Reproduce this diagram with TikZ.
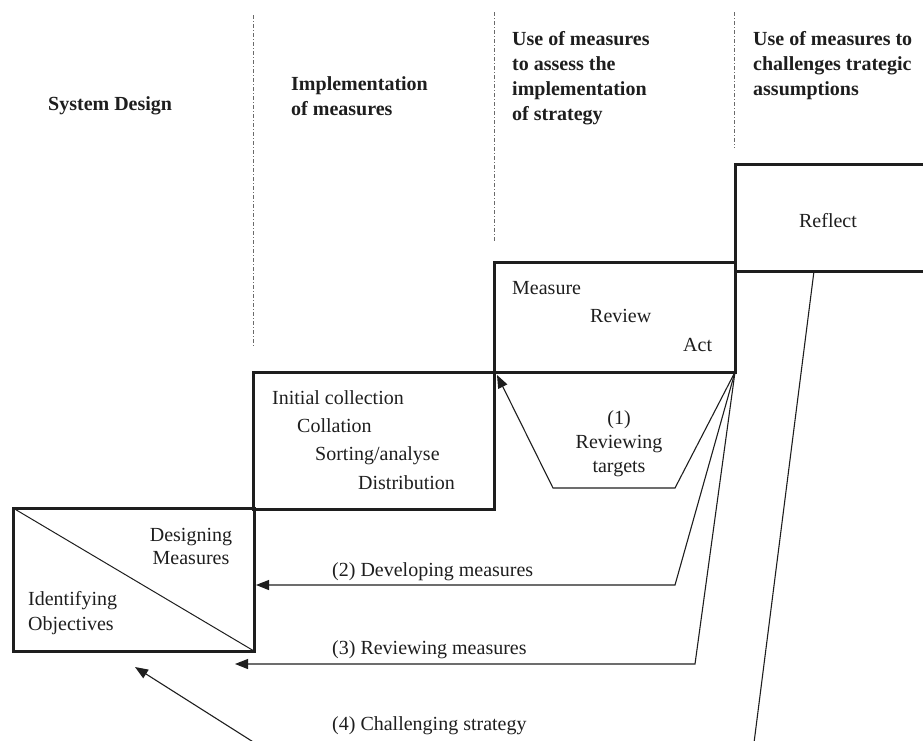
\documentclass[tikz,border=0pt]{standalone}
\usepackage{fontspec}
\setmainfont{Liberation Serif}
\usetikzlibrary{arrows.meta,calc}
\definecolor{ink}{HTML}{1E1E1E}
\definecolor{guide}{HTML}{6A6A6A}
\begin{document}
\begin{tikzpicture}[x=1pt,y=-1pt,
  stage/.style={draw=ink,line width=3pt,outer sep=0pt,inner sep=0pt},
  flow/.style={draw=ink,line width=1.1pt},
  flowarrow/.style={flow,-{Triangle[length=13pt,width=10pt]}},
  divider/.style={draw=guide,line width=0.8pt,dash pattern=on 4pt off 2pt on 1pt off 2pt},
  txt/.style={text=ink,inner sep=0pt,font=\fontsize{20}{28}\selectfont},
  head/.style={txt,font=\fontsize{20}{25}\selectfont\bfseries,align=left,anchor=north west}
]
\useasboundingbox (0,0) rectangle (923,740);
\clip (0,0) rectangle (923,740);

% column dividers
\draw[divider] (253,15) -- (253,346);
\draw[divider] (494,12) -- (494,242);
\draw[divider] (734,12) -- (734,148);

% column headings
\node[head] (h1) at (48,96) {System Design};
\node[head] (h2) at (291,76) {Implementation\\of measures};
\node[head] (h3) at (512,31) {Use of measures\\to assess the\\implementation\\of strategy};
\node[head] (h4) at (753,31) {Use of measures to\\challenges trategic\\assumptions};

% staircase of stages
\node[stage,minimum width=241pt,minimum height=143pt] (A) at (133.5,579.5) {};
\node[stage,minimum width=241pt,minimum height=137pt] (B) at (373.5,440.5) {};
\node[stage,minimum width=241pt,minimum height=110pt] (C) at (614.5,317) {};
\node[stage,minimum width=240pt,minimum height=107pt] (D) at (855,217.5) {};

% stage A split by its diagonal
\draw[line width=1pt,draw=ink] (A.north west) -- (A.south east);
\node[txt,align=center,anchor=north,font=\fontsize{20}{23}\selectfont] (dm) at (191,528) {Designing\\Measures};
\node[txt,align=left,anchor=north west,font=\fontsize{20}{25}\selectfont] (io) at (28,591) {Identifying\\Objectives};

% stage B
\node[txt,anchor=north west] (b1) at (272,390) {Initial collection};
\node[txt,anchor=north west] (b2) at (297,418) {Collation};
\node[txt,anchor=north west] (b3) at (315,446) {Sorting/analyse};
\node[txt,anchor=north west] (b4) at (358,475) {Distribution};

% stage C
\node[txt,anchor=north west] (c1) at (512,281) {Measure};
\node[txt,anchor=north west] (c2) at (590,309) {Review};
\node[txt,anchor=north west] (c3) at (683,338) {Act};

% stage D
\node[txt] (r) at (828,221) {Reflect};

% feedback loops
\coordinate (t1) at (675,488);
\coordinate (t2) at (553,488);
\coordinate (l2) at (675,585);
\coordinate (e2) at (256,585);
\coordinate (l3) at (695,664);
\coordinate (e3) at (235,664);
\coordinate (r1) at (814,271);
\coordinate (r2) at (748,790);
\coordinate (r3) at (329,790);
\coordinate (e4) at (135,667);

\draw[flowarrow] (C.south east) -- (t1) -- (t2) -- ($(C.south west)+(3,3)$);
\draw[flowarrow] (C.south east) -- (l2) -- (e2);
\draw[flowarrow] (C.south east) -- (l3) -- (e3);
\draw[flowarrow] (r1) -- (r2) -- (r3) -- (e4);

% loop labels
\node[txt,align=center,anchor=north,font=\fontsize{20}{24}\selectfont] (k1) at (619,410) {(1)\\Reviewing\\targets};
\node[txt,anchor=north west] (k2) at (332,562) {(2) Developing measures};
\node[txt,anchor=north west] (k3) at (332,640) {(3) Reviewing measures};
\node[txt,anchor=north west] (k4) at (332,716) {(4) Challenging strategy};
\end{tikzpicture}
\end{document}
